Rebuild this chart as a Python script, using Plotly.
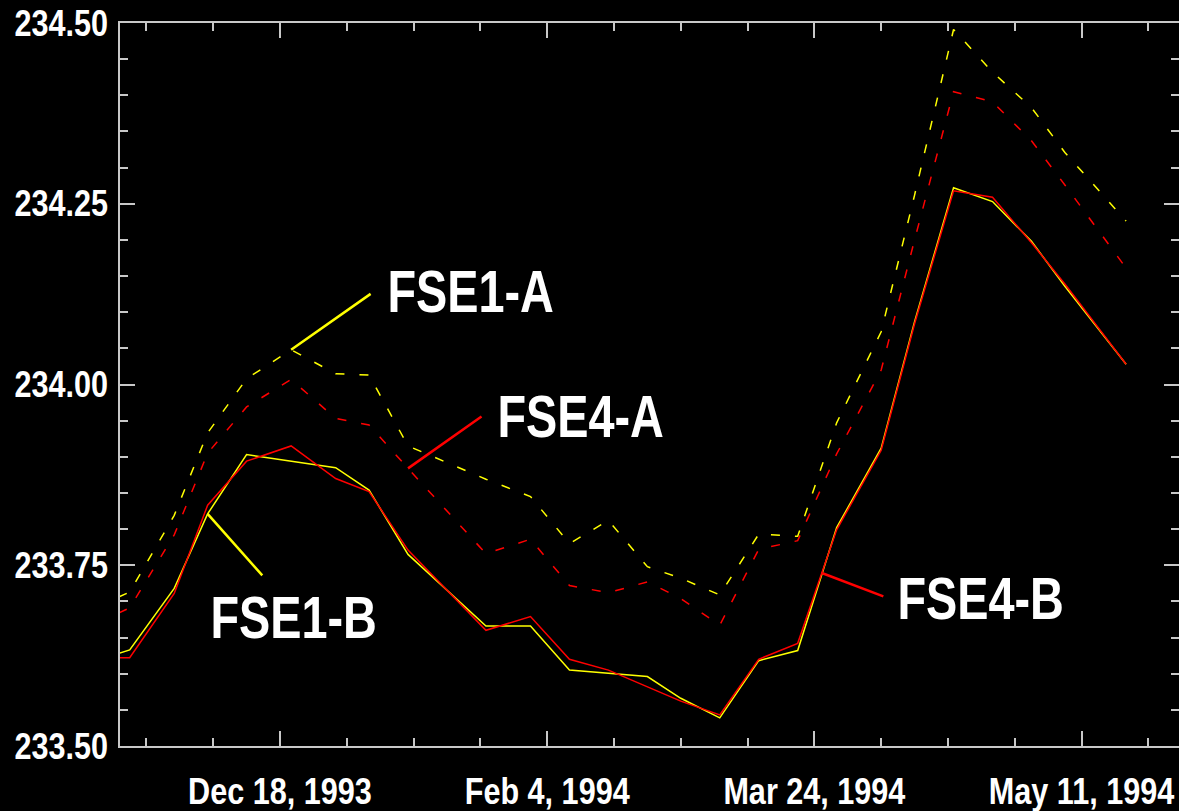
import plotly.graph_objects as go
import pandas as pd

# Sample dates (weekly-ish survey epochs)
dates = ["1993-11-19", "1993-11-21", "1993-11-29", "1993-12-05", "1993-12-12",
         "1993-12-20", "1993-12-28", "1994-01-03", "1994-01-10", "1994-01-24",
         "1994-02-01", "1994-02-08", "1994-02-15", "1994-02-22", "1994-02-28",
         "1994-03-07", "1994-03-14", "1994-03-21", "1994-03-28", "1994-04-05",
         "1994-04-11", "1994-04-18", "1994-04-25", "1994-05-02", "1994-05-08",
         "1994-05-19"]

fse1_a = [233.706, 233.713, 233.819, 233.933, 234.008, 234.048, 234.015, 234.013,
          233.915, 233.869, 233.845, 233.780, 233.812, 233.748, 233.732, 233.709,
          233.793, 233.790, 233.947, 234.073, 234.262, 234.491, 234.432, 234.383,
          234.321, 234.226]
fse4_a = [233.684, 233.691, 233.792, 233.905, 233.969, 234.007, 233.953, 233.944,
          233.884, 233.766, 233.786, 233.722, 233.712, 233.727, 233.704, 233.667,
          233.772, 233.784, 233.904, 234.020, 234.200, 234.405, 234.391, 234.337,
          234.276, 234.161]
fse1_b = [233.628, 233.633, 233.718, 233.821, 233.903, 233.894, 233.885, 233.854,
          233.765, 233.666, 233.666, 233.605, 233.600, 233.596, 233.566, 233.539,
          233.618, 233.632, 233.802, 233.912, 234.087, 234.272, 234.253, 234.198,
          234.136, 234.028]
fse4_b = [233.622, 233.622, 233.711, 233.833, 233.894, 233.915, 233.870, 233.852,
          233.771, 233.660, 233.679, 233.620, 233.605, 233.582, 233.562, 233.543,
          233.620, 233.642, 233.799, 233.909, 234.084, 234.268, 234.259, 234.196,
          234.139, 234.028]

x_tick_dates = ["1993-12-18", "1994-02-04", "1994-03-24", "1994-05-11"]
x_tick_labels = ["Dec 18, 1993", "Feb 4, 1994", "Mar 24, 1994", "May 11, 1994"]
y_tick_vals = [233.50, 233.75, 234.00, 234.25, 234.50]

YELLOW = "#ffff00"
RED = "#ff0000"
AXIS = "#c8c8c8"
FONT = "Liberation Sans, Arial, sans-serif"

x = pd.to_datetime(dates)

fig = go.Figure()
fig.add_trace(go.Scatter(x=x, y=fse1_a, mode="lines", name="FSE1-A",
                         line=dict(color=YELLOW, width=1.5, dash="9px,15px")))
fig.add_trace(go.Scatter(x=x, y=fse4_a, mode="lines", name="FSE4-A",
                         line=dict(color=RED, width=1.5, dash="9px,15px")))
fig.add_trace(go.Scatter(x=x, y=fse1_b, mode="lines", name="FSE1-B",
                         line=dict(color=YELLOW, width=1.5)))
fig.add_trace(go.Scatter(x=x, y=fse4_b, mode="lines", name="FSE4-B",
                         line=dict(color=RED, width=1.5)))

# Leader lines from each curve to its label
def leader(xv, yv, ax, ay, color):
    fig.add_annotation(x=xv, y=yv, xref="x", yref="y", text="", showarrow=True,
                       arrowhead=0, arrowwidth=2.5, arrowcolor=color,
                       ax=ax, ay=ay, axref="pixel", ayref="pixel", standoff=0)

leader(x[5], fse1_a[5], 81, -57, YELLOW)
leader(x[8], fse4_a[8], 75, -53, RED)
leader(x[3], fse1_b[3], 56, 63, YELLOW)
# point part-way along the FSE4-B rise between Mar 21 and Mar 28
t = 0.62
xb = x[17] + (x[18] - x[17]) * t
yb = fse4_b[17] + (fse4_b[18] - fse4_b[17]) * t
leader(xb, yb, 63, 24, RED)

# curve labels, centred on their text
labels = [("FSE1-A", 0.3314, 0.628), ("FSE4-A", 0.4353, 0.4560),
          ("FSE1-B", 0.1638, 0.1775), ("FSE4-B", 0.8130, 0.2040)]
for txt, px, py in labels:
    fig.add_annotation(x=px, y=py, xref="paper", yref="paper", text=txt,
                       showarrow=False, xanchor="center", yanchor="middle",
                       font=dict(family=FONT, size=60, color="white", weight="bold"))

fig.update_xaxes(
    type="date",
    range=["1993-11-19 06:14", "1994-05-28 12:00"],
    tickvals=pd.to_datetime(x_tick_dates), ticktext=x_tick_labels,
    ticks="inside", ticklen=15, tickwidth=1.5, tickcolor=AXIS,
    minor=dict(dtick=12 * 86400000, tick0="1993-12-18", ticks="inside",
               ticklen=8, tickwidth=1.5, tickcolor=AXIS),
    showline=True, linecolor=AXIS, linewidth=1.5, mirror="allticks",
    showgrid=False, zeroline=False, ticklabelstandoff=13, automargin=False,
    ticklabeloverflow="allow",
    tickfont=dict(family=FONT, size=36, color="white", weight="bold"),
)
fig.update_yaxes(
    range=[233.5, 234.5],
    tickvals=y_tick_vals, tickformat=".2f",
    ticks="inside", ticklen=15, tickwidth=1.5, tickcolor=AXIS,
    minor=dict(dtick=0.05, tick0=233.5, ticks="inside",
               ticklen=8, tickwidth=1.5, tickcolor=AXIS),
    showline=True, linecolor=AXIS, linewidth=1.5, mirror="allticks",
    showgrid=False, zeroline=False, ticklabelstandoff=3, automargin=False,
    ticklabeloverflow="allow",
    tickfont=dict(family=FONT, size=36, color="white", weight="bold"),
)

fig.update_layout(
    width=1179, height=811,
    margin=dict(l=120, r=0, t=23, b=65),
    paper_bgcolor="black", plot_bgcolor="black",
    showlegend=False,
)

# Condensed lettering: compress text horizontally about its anchor
condense_js = """
var gd = document.getElementById('{plot_id}');
function condense() {
  var groups = [['.xtick text, .ytick text', 0.85], ['.annotation-text', 0.78]];
  groups.forEach(function (g) {
    gd.querySelectorAll(g[0]).forEach(function (el) {
      if (el.getAttribute('data-w')) return;
      var w = el.getComputedTextLength();
      if (!w) return;
      el.setAttribute('data-w', w);
      el.setAttribute('textLength', (w * g[1]).toFixed(1));
      el.setAttribute('lengthAdjust', 'spacingAndGlyphs');
    });
  });
}
condense();
gd.on('plotly_afterplot', condense);
"""

fig.write_html("out.html", post_script=condense_js)
